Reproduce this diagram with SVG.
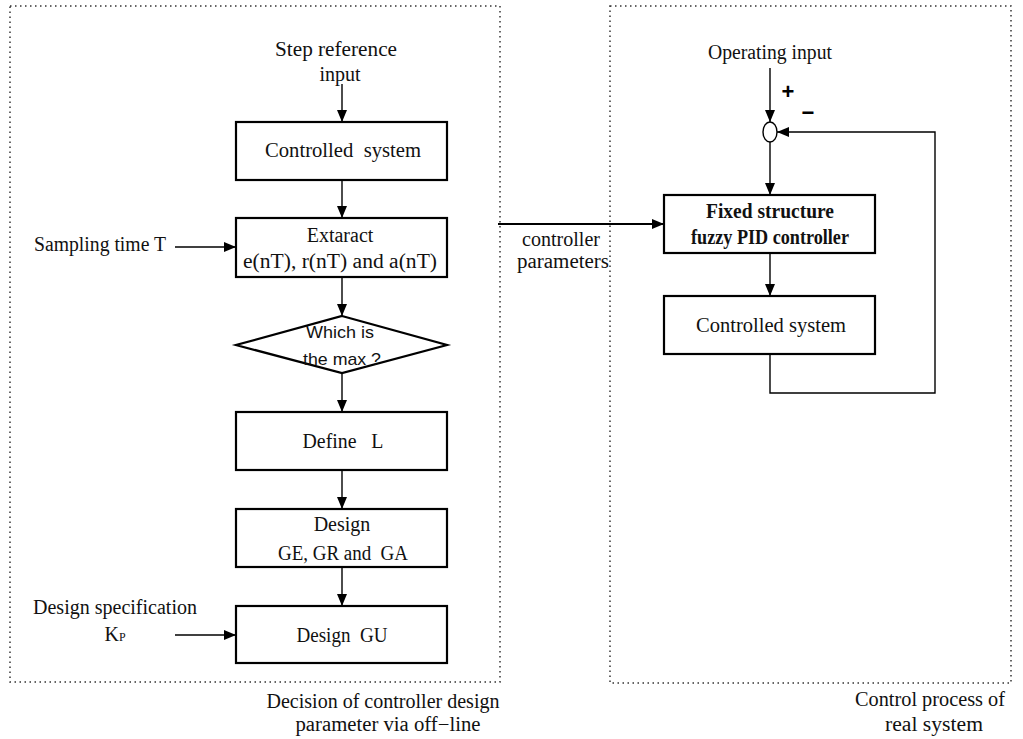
<svg xmlns="http://www.w3.org/2000/svg" width="1023" height="739" viewBox="0 0 1023 739">
<style>
.t{font-family:"Liberation Serif","Times New Roman",serif;font-size:20px;fill:#111;text-anchor:middle}
.s{font-family:"Liberation Sans",Arial,sans-serif;font-size:17px;fill:#111;text-anchor:middle}
.b{fill:#fff;stroke:#000;stroke-width:2.2}
.c{fill:none;stroke:#000;stroke-width:1.4}
.d{fill:none;stroke:#333;stroke-width:1.5;stroke-dasharray:1.5 3.5}
text{}
</style>
<defs>
<marker id="a" viewBox="0 0 12 10" refX="12" refY="5" markerWidth="12" markerHeight="10" markerUnits="userSpaceOnUse" orient="auto"><path d="M0,0 L12,5 L0,10 z" fill="#000"/></marker>
</defs>
<g id="frames">
<rect class="d" x="10" y="6" width="490" height="676"/>
<rect class="d" x="610" y="6" width="401" height="677"/>
</g>
<g id="connectors">
<path class="c" d="M342,84 V122" marker-end="url(#a)"/>
<path class="c" d="M342,180 V218" marker-end="url(#a)"/>
<path class="c" d="M175,247 H236" marker-end="url(#a)"/>
<path class="c" d="M342,277 V316" marker-end="url(#a)"/>
<path class="c" d="M342,373 V412" marker-end="url(#a)"/>
<path class="c" d="M342,470 V509" marker-end="url(#a)"/>
<path class="c" d="M342,567 V606" marker-end="url(#a)"/>
<path class="c" d="M175,635 H236" marker-end="url(#a)"/>
<path fill="none" stroke="#000" stroke-width="2.2" d="M498,224 H664" marker-end="url(#a)"/>
<path class="c" d="M770,68 V122" marker-end="url(#a)"/>
<path class="c" d="M770,142 V195" marker-end="url(#a)"/>
<path class="c" d="M770,253 V296" marker-end="url(#a)"/>
<path class="c" d="M770,354 V393 H935 V132 H777" marker-end="url(#a)"/>
</g>
<g id="n-step"><text class="t" x="336" y="56" textLength="122" lengthAdjust="spacingAndGlyphs">Step reference</text><text class="t" x="340" y="81">input</text></g>
<g id="n-cs1"><rect class="b" x="236" y="122" width="211" height="58"/><text class="t" x="343" y="157" textLength="156" lengthAdjust="spacingAndGlyphs" xml:space="preserve">Controlled  system</text></g>
<g id="n-sampling"><text class="t" x="100" y="251" textLength="132" lengthAdjust="spacingAndGlyphs">Sampling time T</text></g>
<g id="n-extract"><rect class="b" x="236" y="218" width="211" height="59"/><text class="t" x="340" y="242">Extaract</text><text class="t" x="340" y="268" textLength="194" lengthAdjust="spacingAndGlyphs">e(nT), r(nT) and a(nT)</text></g>
<g id="n-which"><path class="b" d="M342,316 L447,345 L342,373 L236,345 Z"/><text class="s" x="340" y="338" textLength="68" lengthAdjust="spacingAndGlyphs">Which is</text><text class="s" x="342" y="365" textLength="78" lengthAdjust="spacingAndGlyphs">the max ?</text></g>
<g id="n-define"><rect class="b" x="236" y="412" width="211" height="58"/><text class="t" x="343" y="448" textLength="81" lengthAdjust="spacingAndGlyphs" xml:space="preserve">Define   L</text></g>
<g id="n-ge"><rect class="b" x="236" y="509" width="211" height="58"/><text class="t" x="342" y="531">Design</text><text class="t" x="343" y="560" textLength="130" lengthAdjust="spacingAndGlyphs" xml:space="preserve">GE, GR and  GA</text></g>
<g id="n-spec"><text class="t" x="115" y="614" textLength="164" lengthAdjust="spacingAndGlyphs">Design specification</text><text class="t" x="115" y="641">K<tspan font-size="12">P</tspan></text></g>
<g id="n-gu"><rect class="b" x="236" y="606" width="211" height="57"/><text class="t" x="342" y="642" textLength="91" lengthAdjust="spacingAndGlyphs" xml:space="preserve">Design  GU</text></g>
<g id="n-decision"><text class="t" x="383" y="708" textLength="233" lengthAdjust="spacingAndGlyphs">Decision of controller design</text><text class="t" x="388" y="731" textLength="185" lengthAdjust="spacingAndGlyphs">parameter via off−line</text></g>
<g id="n-params"><text class="t" x="561" y="246" textLength="78" lengthAdjust="spacingAndGlyphs">controller</text><text class="t" x="563" y="268" textLength="92" lengthAdjust="spacingAndGlyphs">parameters</text></g>
<g id="n-op"><text class="t" x="770" y="59" textLength="124" lengthAdjust="spacingAndGlyphs">Operating input</text></g>
<g id="n-sum"><ellipse fill="#fff" stroke="#000" stroke-width="1.4" cx="770" cy="132" rx="7" ry="10"/><text x="788" y="99" font-family="Liberation Sans,Arial,sans-serif" font-size="22" font-weight="bold" text-anchor="middle">+</text><text x="808" y="120" font-family="Liberation Sans,Arial,sans-serif" font-size="22" font-weight="bold" text-anchor="middle">−</text></g>
<g id="n-fuzzy"><rect class="b" x="664" y="195" width="211" height="58"/><text class="t" x="770" y="218" font-weight="bold" textLength="128" lengthAdjust="spacingAndGlyphs">Fixed structure</text><text class="t" x="770" y="244" font-weight="bold" textLength="158" lengthAdjust="spacingAndGlyphs">fuzzy PID controller</text></g>
<g id="n-cs2"><rect class="b" x="664" y="296" width="211" height="58"/><text class="t" x="771" y="332" textLength="150" lengthAdjust="spacingAndGlyphs">Controlled system</text></g>
<g id="n-control"><text class="t" x="930" y="706" textLength="150" lengthAdjust="spacingAndGlyphs">Control process of</text><text class="t" x="934" y="731" textLength="98" lengthAdjust="spacingAndGlyphs">real system</text></g>
</svg>
